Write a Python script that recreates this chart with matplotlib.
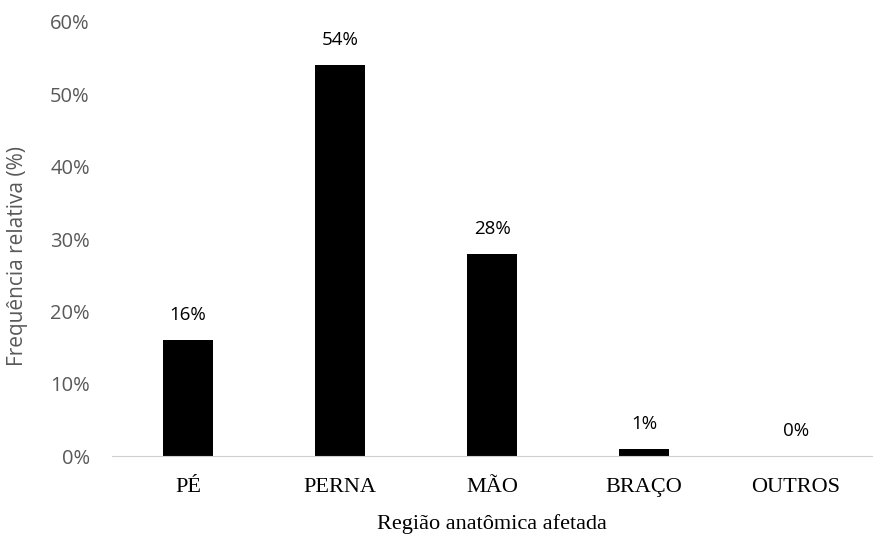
import matplotlib.pyplot as plt

categorias = ['PÉ', 'PERNA', 'MÃO', 'BRAÇO', 'OUTROS']
frequencia = [16, 54, 28, 1, 0]
yticks = [0, 10, 20, 30, 40, 50, 60]

fig = plt.figure(figsize=(8.88, 5.36), dpi=100)
ax = fig.add_axes([0.1261, 0.149, 0.856, 0.81])

x = range(len(categorias))
ax.bar(x, frequencia, width=0.33, color='black')
for xi, v in zip(x, frequencia):
    ax.text(xi, v + 2.2, f'{v}%', ha='center', va='bottom',
            fontsize=13.5, family='Open Sans', color='black')

ax.set_xlim(-0.5, len(categorias) - 0.5)
ax.set_ylim(0, 60)
ax.set_yticks(yticks)
ax.set_yticklabels([f'{t}%' for t in yticks], family='Open Sans', fontsize=14.5, color='#595959')
ax.set_xticks(list(x))
ax.set_xticklabels(categorias, family='Liberation Serif', fontsize=16)

for s in ['top', 'right', 'left']:
    ax.spines[s].set_visible(False)
ax.spines['bottom'].set_color('#d0d0d0')
ax.tick_params(axis='both', length=0)
ax.tick_params(axis='y', pad=16)
ax.tick_params(axis='x', pad=16)

ax.set_ylabel('Frequência relativa (%)', family='Open Sans', fontsize=15, color='#595959')
ax.yaxis.set_label_coords(-0.11, 0.46)
ax.set_xlabel('Região anatômica afetada', family='Liberation Serif', fontsize=16, labelpad=12)

fig.savefig('out.png', dpi=100)
